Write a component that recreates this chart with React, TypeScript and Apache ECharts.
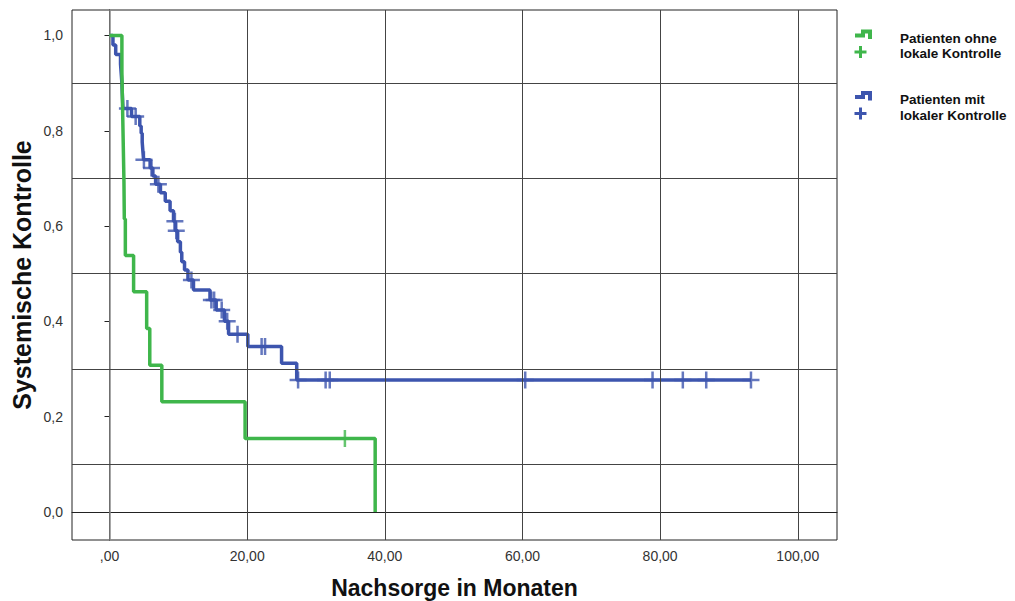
import React, { useEffect, useRef } from "react";
import * as echarts from "echarts";

// Kaplan-Meier: systemic control over follow-up (months)
// Group without local control
const ohneTimes = [0, 1.8, 1.9, 2.0, 2.1, 2.15, 2.3, 3.5, 5.4, 5.85, 7.6, 19.7, 38.6];
const ohneSurv = [1, 0.923, 0.846, 0.769, 0.692, 0.615, 0.538, 0.462, 0.385, 0.308, 0.231, 0.154, 0];
const ohneCensored = [34.2];

// Group with local control
const mitTimes = [
  0, 0.5, 0.9, 1.6, 1.7, 1.8, 1.85, 1.9, 1.95, 3.2, 4.4, 4.6, 4.75, 4.85, 4.95, 5.9, 6.3, 6.7,
  7.4, 8.1, 8.8, 9.3, 9.55, 9.9, 10.3, 10.5, 10.9, 11.4, 12.2, 14.6, 15.5, 16.7, 17.3, 20.1, 25.0, 27.2,
];
const mitSurv = [
  1, 0.98, 0.96, 0.94, 0.92, 0.9, 0.88, 0.865, 0.847, 0.83, 0.81, 0.795, 0.776, 0.757, 0.739, 0.722, 0.705, 0.688,
  0.67, 0.652, 0.632, 0.61, 0.59, 0.567, 0.545, 0.525, 0.508, 0.487, 0.466, 0.445, 0.424, 0.4, 0.373, 0.347, 0.312, 0.277,
];
const mitCensored = [
  2.6, 3.8, 5.0, 6.1, 7.1, 9.5, 9.7, 11.9, 14.8, 15.2, 16.3, 17.1, 18.6, 22.1, 22.6, 27.4, 31.4, 32.0, 60.4, 78.9,
  83.3, 86.7, 93.2,
];

const xTickValues = [0, 20, 40, 60, 80, 100];
const yTickValues = [0, 0.2, 0.4, 0.6, 0.8, 1.0];
const yGridValues = [0.1, 0.3, 0.5, 0.7, 0.9];

const seriesNames = ["Patienten ohne\nlokale Kontrolle", "Patienten mit\nlokaler Kontrolle"];

const GREEN = "#3fb64b";
const BLUE = "#3d55ae";
const FONT = "'Liberation Sans', Arial, Helvetica, sans-serif";
const CENSOR_SYMBOL = "path://M7.25,0H9.75V7.25H17V9.75H9.75V17H7.25V9.75H0V7.25H7.25Z";

function survivalAt(times: number[], surv: number[], t: number): number {
  let s = surv[0];
  for (let i = 0; i < times.length; i++) {
    if (times[i] <= t) s = surv[i];
  }
  return s;
}

function curvePoints(times: number[], surv: number[], censored: number[]): number[][] {
  const pts = times.map((t, i) => [t, surv[i]]);
  const lastCensor = censored.length ? censored[censored.length - 1] : 0;
  const lastT = times[times.length - 1];
  if (lastCensor > lastT) pts.push([lastCensor, surv[surv.length - 1]]);
  return pts;
}

function censorPoints(times: number[], surv: number[], censored: number[]): number[][] {
  return censored.map((t) => [t, survivalAt(times, surv, t)]);
}

function legendEntry(color: string, top: number, label: string): any[] {
  return [
    {
      type: "polyline",
      shape: {
        points: [
          [855, top + 4.5],
          [863, top + 4.5],
          [863, top + 0.5],
          [870, top + 0.5],
          [870, top + 8],
        ],
      },
      style: { stroke: color, lineWidth: 4, fill: null },
    },
    { type: "rect", shape: { x: 854.5, y: top + 19.5, width: 12, height: 3 }, style: { fill: color } },
    { type: "rect", shape: { x: 859, y: top + 15, width: 3, height: 12 }, style: { fill: color } },
    {
      type: "text",
      x: 900,
      y: top - 0.5,
      style: {
        text: label,
        font: `bold 13.5px ${FONT}`,
        fill: "#111",
        lineHeight: 15.5,
        verticalAlign: "top",
        align: "left",
      },
    },
  ];
}

export default function App() {
  const ref = useRef<HTMLDivElement>(null);

  useEffect(() => {
    if (!ref.current) return;
    const chart = echarts.init(ref.current, null, { renderer: "svg" });

    const option: any = {
      animation: false,
      backgroundColor: "#ffffff",
      grid: {
        left: 72,
        right: 178,
        top: 10,
        bottom: 61,
        containLabel: false,
        outerBoundsMode: "none",
        show: true,
        borderColor: "#222",
        borderWidth: 1,
        backgroundColor: "transparent",
      },
      xAxis: {
        type: "value",
        min: -5.45,
        max: 105.7,
        name: "Nachsorge in Monaten",
        nameLocation: "middle",
        nameGap: 36,
        nameMoveOverlap: false,
        nameTextStyle: { fontFamily: FONT, fontWeight: "bold", fontSize: 23, color: "#111" },
        axisLine: { show: true, lineStyle: { color: "#222", width: 1 } },
        axisTick: { show: true, customValues: xTickValues, length: 5, lineStyle: { color: "#222" } },
        axisLabel: {
          customValues: xTickValues,
          margin: 9,
          fontFamily: FONT,
          fontSize: 14,
          color: "#333",
          formatter: (v: number) => (v === 0 ? ",00" : v.toFixed(2).replace(".", ",")),
        },
        splitLine: { show: false },
      },
      yAxis: {
        type: "value",
        min: -0.059,
        max: 1.0535,
        name: "Systemische Kontrolle",
        nameLocation: "middle",
        nameGap: 38,
        nameMoveOverlap: false,
        nameTextStyle: { fontFamily: FONT, fontWeight: "bold", fontSize: 25, color: "#111" },
        axisLine: { show: true, lineStyle: { color: "#222", width: 1 } },
        axisTick: { show: true, customValues: yTickValues, length: 5, lineStyle: { color: "#222" } },
        axisLabel: {
          customValues: yTickValues,
          margin: 9,
          fontFamily: FONT,
          fontSize: 14,
          color: "#333",
          formatter: (v: number) => v.toFixed(1).replace(".", ","),
        },
        splitLine: { show: false },
      },
      series: [
        {
          type: "scatter",
          data: [],
          z: 1,
          silent: true,
          markLine: {
            silent: true,
            symbol: "none",
            label: { show: false },
            lineStyle: { color: "#444", width: 1, type: "solid" },
            data: [
              ...xTickValues.map((v) =>
                v === 0 ? { xAxis: v, lineStyle: { color: "#8a8a8a", width: 1.5, type: "solid" } } : { xAxis: v }
              ),
              ...yGridValues.map((v) => ({ yAxis: v })),
            ],
          },
        },
        {
          type: "line",
          name: seriesNames[1],
          step: "end",
          symbol: "none",
          data: curvePoints(mitTimes, mitSurv, mitCensored),
          lineStyle: { color: BLUE, width: 3.5 },
          itemStyle: { color: BLUE },
          z: 3,
        },
        {
          type: "scatter",
          name: seriesNames[1],
          data: censorPoints(mitTimes, mitSurv, mitCensored),
          symbol: CENSOR_SYMBOL,
          symbolSize: 17,
          itemStyle: { color: BLUE },
          z: 4,
        },
        {
          type: "line",
          name: seriesNames[0],
          step: "end",
          symbol: "none",
          data: curvePoints(ohneTimes, ohneSurv, ohneCensored),
          lineStyle: { color: GREEN, width: 3.5 },
          itemStyle: { color: GREEN },
          z: 5,
        },
        {
          type: "scatter",
          name: seriesNames[0],
          data: censorPoints(ohneTimes, ohneSurv, ohneCensored),
          symbol: CENSOR_SYMBOL,
          symbolSize: 17,
          itemStyle: { color: GREEN },
          z: 6,
        },
      ],
      graphic: [...legendEntry(GREEN, 31, seriesNames[0]), ...legendEntry(BLUE, 92.5, seriesNames[1])],
    };

    chart.setOption(option);
    return () => chart.dispose();
  }, []);

  return (
    <div
      ref={ref}
      style={{ position: "absolute", left: 0, top: 0, width: 1015, height: 601, background: "#fff" }}
    />
  );
}
